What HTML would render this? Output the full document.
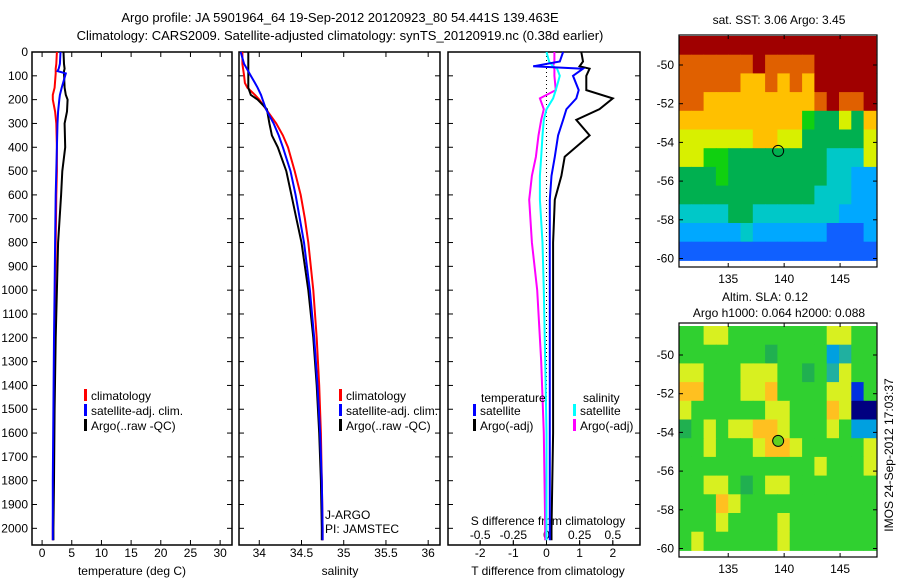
<!DOCTYPE html>
<html><head><meta charset="utf-8"><style>
body{margin:0;background:#fff}
svg{display:block;font-family:"Liberation Sans",sans-serif}
</style></head><body>
<svg id="c" width="900" height="580" viewBox="0 0 900 580">
<text x="340" y="22" font-size="13" text-anchor="middle">Argo profile: JA 5901964_64 19-Sep-2012 20120923_80 54.441S 139.463E</text>
<text x="340" y="40" font-size="13" text-anchor="middle">Climatology: CARS2009. Satellite-adjusted climatology: synTS_20120919.nc (0.38d earlier)</text>
</svg>
<script>
// ---- data ----
const depthT=[0,50,70,80,90,150,180,200,250,300,400,500,600,800,1000,1200,1500,1800,2000,2050];
const tClim=[2.5,2.4,2.3,2.3,2.3,2.1,1.8,1.8,2.2,2.4,2.5,2.5,2.4,2.3,2.2,2.1,2.0,1.9,1.8,1.8];
const tSat=[3.1,3.0,2.8,2.6,4.0,3.3,3.0,2.9,2.7,2.6,2.5,2.4,2.3,2.2,2.1,2.0,1.9,1.8,1.8,1.8];
const tArgo=[3.6,3.7,3.8,3.7,3.7,3.8,4.0,4.3,4.2,3.8,3.9,3.4,3.2,2.7,2.5,2.3,2.1,2.0,1.9,1.9];
const depthS=[0,50,100,130,150,180,200,240,300,350,400,500,600,700,800,1000,1200,1400,1600,1800,2000,2050];
const sClim=[33.8,33.8,33.82,33.83,33.86,33.95,34.0,34.08,34.2,34.28,34.34,34.42,34.49,34.54,34.58,34.64,34.68,34.71,34.73,34.74,34.75,34.75];
const sSat=[33.78,33.82,33.9,33.95,33.98,34.02,34.04,34.08,34.17,34.23,34.28,34.37,34.43,34.48,34.53,34.6,34.65,34.69,34.72,34.74,34.75,34.75];
const sArgo=[33.87,33.87,33.87,33.87,33.87,33.9,33.98,34.09,34.12,34.15,34.22,34.32,34.38,34.44,34.5,34.58,34.64,34.68,34.71,34.73,34.74,34.74];
const depthD=[0,40,60,70,100,160,195,240,285,350,440,520,620,800,1000,1300,1600,2000,2050];
const dTsat=[0.5,0.4,-0.4,1.1,0.8,0.97,0.9,0.6,0.5,0.35,0.25,0.15,0.1,0.1,0.1,0.1,0.1,0.1,0.1];
const dTargo=[1.05,1.1,1.0,1.3,1.2,1.2,2.0,1.6,0.9,1.3,0.55,0.45,0.25,0.2,0.2,0.2,0.2,0.15,0.15];
const dSsat=[0,0.02,0.05,0.08,0.1,0.07,0.05,0,-0.02,-0.03,-0.04,-0.05,-0.05,-0.03,-0.02,-0.01,0,0,0];
const dSargo=[0.06,0.06,0.05,0.06,0.06,0.07,-0.05,-0.02,-0.04,-0.06,-0.08,-0.11,-0.13,-0.11,-0.07,-0.04,-0.02,-0.01,-0.01];
const depthTicks=[0,100,200,300,400,500,600,700,800,900,1000,1100,1200,1300,1400,1500,1600,1700,1800,1900,2000];
const tTicks=[0,5,10,15,20,25,30];
const sTicks=[34,34.5,35,35.5,36];
const dTTicks=[-2,-1,0,1,2];
const dSTicks=[-0.5,-0.25,0,0.25,0.5];
const sstRows=["9999999999999999","8888889888899999","8888877878799999","8877777777789889","7777777777544647","6666667766444446","6655444444443336","4445444444443322","4444444444433322","3333443333333222","2222232222221112","1111111111111111"];
const slaRows=["5566555555556655","5555555455552355","6655566655453655","7755566755556615","6555555665557600","4565667765556522","5565556776555556","5555555555565556","5566545665555555","5557655555555555","5556555565555555","5655555565555555"];
const lonTicks=[135,140,145];
const latTicks=[-50,-52,-54,-56,-58,-60];
const palette=["#00008f","#1060ff","#00a8ff","#00c8c8","#00b050","#10d010","#d8f000","#ffc000","#e06000","#a00000"];
const slaPalette=["#000080","#0030e0","#00a0e0","#20b0a0","#20b050","#30d030","#d8f020","#ffc020","#e08000","#a00000"];

const S=document.getElementById('c');const NS='http://www.w3.org/2000/svg';
function el(t,a,p){const e=document.createElementNS(NS,t);for(const k in a)e.setAttribute(k,a[k]);(p||S).appendChild(e);return e;}
function txt(x,y,s,anchor,size,name){const e=el('text',{x:x,y:y,'font-size':size||12,'text-anchor':anchor||'start'});e.textContent=s;

return e;}
const Y0=52,Y1=545,DMAX=2070;
const yD=d=>Y0+d/DMAX*(Y1-Y0);
function lin(d0,d1,p0,p1){return v=>p0+(v-d0)/(d1-d0)*(p1-p0);}
function box(x0,x1,name){const r=el('rect',{x:x0,y:Y0,width:x1-x0,height:Y1-Y0,fill:'none',stroke:'#000','stroke-width':1.5});

}
function line(xs,ds,xf,color,name,w){const pts=xs.map((v,i)=>xf(v).toFixed(1)+','+yD(ds[i]).toFixed(1)).join(' ');
const p=el('polyline',{points:pts,fill:'none',stroke:color,'stroke-width':w||2});

}
function xticks(vals,xf,yl,fmt,top,name){vals.forEach(v=>{const x=xf(v);el('line',{x1:x,x2:x,y1:Y1,y2:Y1-5,stroke:'#000'});if(top)el('line',{x1:x,x2:x,y1:Y0,y2:Y0+5,stroke:'#000'});txt(x,yl,fmt?fmt(v):String(v),'middle',12,name);});}
function yticks(x0,x1,labels){depthTicks.forEach(d=>{const y=yD(d);el('line',{x1:x0,x2:x0+5,y1:y,y2:y,stroke:'#000'});el('line',{x1:x1,x2:x1-5,y1:y,y2:y,stroke:'#000'});if(labels)txt(28,y+4,String(d),'end',12,'depth-tick-label');});}
function legItem(x,y,color,label,name){el('rect',{x:x,y:y-9,width:3,height:12,fill:color});txt(x+7,y+2,label,'start',12,name);}

// Panel 1 temperature
const xT=lin(-1.7,32,32,232);
box(32,232,'temperature-panel');yticks(32,232,true);xticks(tTicks,xT,557,null,true,'temperature-tick-label');
txt(132,575,'temperature (deg C)','middle',12,'temperature-axis-title');
line(tClim,depthT,xT,'#f00','temperature-climatology-line');
line(tArgo,depthT,xT,'#000','temperature-argo-line');
line(tSat,depthT,xT,'#00f','temperature-satellite-line');
legItem(84,398,'#f00','climatology','legend-climatology');legItem(84,413,'#00f','satellite-adj. clim.','legend-satellite');legItem(84,428,'#000','Argo(..raw -QC)','legend-argo');

// Panel 2 salinity
const xS=lin(33.76,36.14,239,440);
box(239,440,'salinity-panel');yticks(239,440,false);xticks(sTicks,xS,557,null,true,'salinity-tick-label');
txt(340,575,'salinity','middle',12,'salinity-axis-title');
line(sClim,depthS,xS,'#f00','salinity-climatology-line');
line(sArgo,depthS,xS,'#000','salinity-argo-line');
line(sSat,depthS,xS,'#00f','salinity-satellite-line');
legItem(339,398,'#f00','climatology','legend-climatology-2');legItem(339,413,'#00f','satellite-adj. clim.','legend-satellite-2');legItem(339,428,'#000','Argo(..raw -QC)','legend-argo-2');
txt(325,519,'J-ARGO','start',12,'float-program-label');txt(325,533,'PI: JAMSTEC','start',12,'pi-label');

// Panel 3 differences
const xDT=lin(-2.97,2.82,448,640);
const xDS=v=>xDT(v*4);
box(448,640,'difference-panel');yticks(448,640,false);
xticks(dTTicks,xDT,557,null,false,'t-diff-tick-label');
dSTicks.forEach(v=>{const x=xDS(v);el('line',{x1:x,x2:x,y1:Y1,y2:Y1-4,stroke:'#000'});txt(x,539,v===0?'0':String(v),'middle',12,'s-diff-tick-label');});
txt(548,525,'S difference from climatology','middle',12,'s-diff-axis-title');
txt(548,575,'T difference from climatology','middle',12,'t-diff-axis-title');
el('line',{x1:xDT(0),x2:xDT(0),y1:Y0,y2:Y1,stroke:'#000','stroke-dasharray':'1,3'});
line(dSargo,depthD,xDS,'#f0f','s-diff-argo-line');
line(dSsat,depthD,xDS,'#0ff','s-diff-satellite-line');
line(dTargo,depthD,xDT,'#000','t-diff-argo-line');
line(dTsat,depthD,xDT,'#00f','t-diff-satellite-line');
txt(481,402,'temperature','start',12,'legend-temperature-heading');txt(583,402,'salinity','start',12,'legend-salinity-heading');
legItem(473,413,'#00f','satellite','legend-t-satellite');legItem(473,428,'#000','Argo(-adj)','legend-t-argo');
legItem(573,413,'#0ff','satellite','legend-s-satellite');legItem(573,428,'#f0f','Argo(-adj)','legend-s-argo');

// Maps
function map(rows,pal,top,bottom,latTopPx,name,dotFill){
 const xL=lin(130.6,148.3,679,877);const yL=lin(-50,-60,latTopPx,latTopPx+193.5);
 const lon0=130.6,lon1=148.2,lat0=-48.5,lat1=-60.1;const nr=rows.length,nc=rows[0].length;
 const g=el('g',{});
 rows.forEach((r,i)=>{for(let j=0;j<nc;j++){const la=lat0+(lat1-lat0)*i/nr,lb=lat0+(lat1-lat0)*(i+1)/nr;const oa=lon0+(lon1-lon0)*j/nc,ob=lon0+(lon1-lon0)*(j+1)/nc;
  const c=el('rect',{x:xL(oa).toFixed(1),y:yL(la).toFixed(1),width:(xL(ob)-xL(oa)+0.5).toFixed(1),height:(yL(lb)-yL(la)+0.5).toFixed(1),fill:pal[+r[j]]},g);
  
  }});
 const b=el('rect',{x:679,y:top,width:198,height:bottom-top,fill:'none',stroke:'#000','stroke-width':1.2});
 lonTicks.forEach(v=>{const x=xL(v);el('line',{x1:x,x2:x,y1:bottom,y2:bottom-4,stroke:'#000'});el('line',{x1:x,x2:x,y1:top,y2:top+4,stroke:'#000'});txt(x,bottom+16,String(v),'middle',12,'lon-tick-label');});
 latTicks.forEach(v=>{const y=yL(v);el('line',{x1:679,x2:683,y1:y,y2:y,stroke:'#000'});el('line',{x1:877,x2:873,y1:y,y2:y,stroke:'#000'});txt(674,y+4,String(v),'end',12,'lat-tick-label');});
 const d=el('circle',{cx:xL(139.463),cy:yL(-54.441),r:5.5,fill:dotFill,stroke:'#000','stroke-width':1});
 
}
map(sstRows,palette,35,267,65,'sst-map','none');
map(slaRows,slaPalette,323,557,355,'sla-map','#60d020');
txt(779,24,'sat. SST: 3.06 Argo: 3.45','middle',12,'sst-map-title');
txt(765,301,'Altim. SLA: 0.12','middle',12,'sla-map-title');
txt(779,317,'Argo h1000: 0.064 h2000: 0.088','middle',12,'sla-map-subtitle');
const v=txt(0,0,'IMOS 24-Sep-2012 17:03:37','middle',12,'timestamp-label');v.setAttribute('transform','translate(893,455) rotate(-90)');
</script>
</body></html>
